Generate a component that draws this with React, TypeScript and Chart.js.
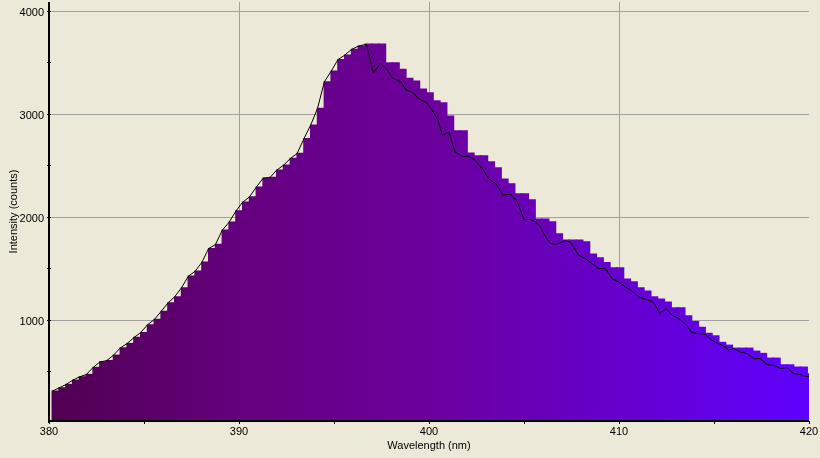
import React, { useEffect, useRef } from 'react';
import { Chart, registerables } from 'chart.js';

Chart.register(...registerables);

// Histogram bins (nm): left edge of first bin and bin width
const binStart = 380.17;
const binWidth = 0.358;

// Bar heights (counts), one per bin
const barCounts = [
  311, 343, 376, 417, 450, 473, 541, 595, 608, 660,
  731, 774, 832, 880, 955, 1007, 1085, 1168, 1227, 1314,
  1427, 1476, 1563, 1696, 1735, 1874, 1952, 2061, 2146, 2197,
  2292, 2379, 2386, 2457, 2505, 2570, 2619, 2764, 2894, 3056,
  3314, 3418, 3531, 3573, 3629, 3661, 3680, 3680, 3680, 3498,
  3498, 3434, 3347, 3321, 3243, 3207, 3130, 3110, 2981, 2838,
  2838, 2622, 2596, 2596, 2537, 2479, 2369, 2324, 2227, 2227,
  2168, 1981, 1981, 1955, 1838, 1777, 1777, 1777, 1760, 1641,
  1605, 1560, 1508, 1508, 1398, 1372, 1314, 1282, 1227, 1204,
  1175, 1120, 1120, 1042, 985, 930, 871, 848, 784, 757,
  728, 728, 728, 699, 677, 631, 631, 566, 566, 544,
  544, 479,
];

// Overlay trace (black line)
const lineWavelengths = [
  380.17, 380.53, 380.89, 381.24, 381.6, 381.96, 382.32, 382.68, 383.03, 383.39,
  383.75, 384.11, 384.47, 384.82, 385.18, 385.54, 385.9, 386.26, 386.61, 386.97,
  387.33, 387.69, 388.05, 388.4, 388.76, 389.12, 389.48, 389.84, 390.19, 390.55,
  390.91, 391.27, 391.63, 391.98, 392.34, 392.7, 393.06, 393.42, 393.77, 394.13,
  394.49, 394.85, 395.21, 395.56, 395.92, 396.28, 396.7,
  397.08, 397.44, 397.74, 398.08, 398.53, 398.79, 399.14, 399.49, 399.84, 400.17,
  400.44, 400.7, 401.05, 401.37, 401.75, 402.07, 402.37, 402.81, 403.16, 403.51,
  403.89, 404.29, 404.65, 405.0, 405.35, 405.61, 405.87, 406.14, 406.4, 406.7,
  407.02, 407.17, 407.44, 407.61, 407.87, 408.23, 408.58, 408.93, 409.28, 409.63,
  409.98, 410.33, 410.68, 411.03, 411.38, 411.74, 411.91, 412.14, 412.49, 412.79,
  413.14, 413.49, 413.84, 414.54, 414.89, 415.24, 415.59, 415.77, 416.03, 416.38,
  416.74, 417.08, 417.44, 417.79, 418.14, 418.49, 418.84, 419.19, 419.54, 419.8,
  420.0,
];
const lineCounts = [
  311, 343, 376, 417, 450, 473, 541, 595, 608, 660,
  731, 774, 832, 880, 955, 1007, 1085, 1168, 1227, 1314,
  1427, 1476, 1563, 1696, 1735, 1874, 1952, 2061, 2146, 2197,
  2292, 2379, 2386, 2457, 2505, 2570, 2619, 2764, 2894, 3056,
  3314, 3418, 3531, 3573, 3629, 3661, 3680,
  3405, 3493, 3445, 3353, 3314, 3234, 3212, 3147, 3120, 3040,
  2958, 2796, 2828, 2634, 2592, 2592, 2563, 2473, 2369, 2327,
  2214, 2224, 2149, 1978, 1978, 1955, 1906, 1809, 1745, 1738,
  1760, 1770, 1760, 1712, 1631, 1599, 1551, 1502, 1502, 1405,
  1372, 1324, 1285, 1227, 1204, 1185, 1146, 1065, 1114, 1049,
  1017, 968, 880, 861, 806, 774, 741, 709, 725, 692,
  677, 628, 628, 570, 563, 531, 541, 483, 473, 456,
  453,
];

const xMajorTicks = [380, 390, 400, 410, 420];
const xMinorTicks = [385, 395, 405, 415];
const yMajorTicks = [1000, 2000, 3000, 4000];
const yMinorTicks = [500, 1500, 2500, 3500];
const xTitle = 'Wavelength (nm)';
const yTitle = 'Intensity (counts)';

const FONT = '"Liberation Sans", Arial, sans-serif';
const GRID = '#a0a0a0';

const axesPlugin = {
  id: 'axesDecor',
  afterDatasetsDraw(chart: any) {
    const { ctx, chartArea: a, scales } = chart;
    const xs = scales.x;
    const ys = scales.y;
    ctx.save();
    ctx.fillStyle = '#000';
    const left = Math.round(a.left);
    const bottom = Math.round(a.bottom);
    ctx.fillRect(left - 1, a.top, 2, bottom - a.top + 2);
    ctx.fillRect(left, bottom - 1, Math.round(a.right) - left, 2);
    for (const v of [...yMajorTicks, ...yMinorTicks]) {
      const py = Math.floor(ys.getPixelForValue(v));
      ctx.fillRect(left - 2, py, 4, 1);
    }
    for (const v of [...xMajorTicks, ...xMinorTicks]) {
      const px = Math.floor(xs.getPixelForValue(v));
      ctx.fillRect(px, bottom, 1, 3);
    }
    ctx.restore();
  },
};

export default function App() {
  const ref = useRef<HTMLCanvasElement>(null);

  useEffect(() => {
    const canvas = ref.current;
    if (!canvas) return;
    Chart.defaults.font.family = FONT;
    Chart.defaults.font.size = 11;
    Chart.defaults.color = '#000';

    let cache: any = null;
    const gradient = (c: any) => {
      const chart = c.chart;
      const a = chart.chartArea;
      if (!a) return '#6a0090';
      if (cache && cache.l === a.left && cache.r === a.right) return cache.g;
      const g = chart.ctx.createLinearGradient(a.left, 0, a.right, 0);
      g.addColorStop(0, 'rgb(80,0,82)');
      g.addColorStop(0.25, 'rgb(100,0,125)');
      g.addColorStop(0.5, 'rgb(108,0,158)');
      g.addColorStop(0.75, 'rgb(102,0,205)');
      g.addColorStop(1, 'rgb(95,0,255)');
      cache = { l: a.left, r: a.right, g };
      return g;
    };

    const chart = new Chart(canvas, {
      type: 'bar',
      data: {
        datasets: [
          {
            type: 'line',
            data: lineWavelengths.map((x, i) => ({ x, y: lineCounts[i] })),
            borderColor: '#000',
            borderWidth: 1,
            pointRadius: 0,
            tension: 0,
            fill: false,
            order: 0,
          } as any,
          {
            type: 'bar',
            data: barCounts.map((y, i) => ({ x: binStart + binWidth * (i + 0.5), y })),
            backgroundColor: gradient,
            borderWidth: 0,
            barPercentage: 1,
            categoryPercentage: 1,
            inflateAmount: 0.7,
            clip: 0,
            order: 1,
          } as any,
        ],
      },
      plugins: [axesPlugin],
      options: {
        responsive: false,
        animation: false,
        events: [],
        layout: { padding: { left: 0, top: 2, right: 11, bottom: 0 } },
        plugins: { legend: { display: false }, tooltip: { enabled: false } },
        scales: {
          x: {
            type: 'linear',
            min: 380,
            max: 420,
            offset: false,
            afterBuildTicks: (s: any) => {
              s.ticks = xMajorTicks.map((v) => ({ value: v }));
            },
            afterFit: (s: any) => {
              s.height = 37;
              s.paddingLeft = 0;
              s.paddingRight = 0;
            },
            ticks: {
              autoSkip: false,
              maxRotation: 0,
              padding: 4,
              callback: (v: any) => String(v),
              font: { family: FONT, size: 11 },
              color: '#000',
            },
            grid: {
              offset: false,
              drawTicks: false,
              lineWidth: 1,
              color: (c: any) =>
                c.tick && c.tick.value > 380 && c.tick.value < 420 ? GRID : 'rgba(0,0,0,0)',
            },
            border: { display: false },
            title: {
              display: true,
              text: xTitle,
              font: { family: FONT, size: 11 },
              color: '#000',
              padding: { top: 0, bottom: 5 },
            },
          },
          y: {
            type: 'linear',
            min: 22,
            max: 4090,
            afterBuildTicks: (s: any) => {
              s.ticks = yMajorTicks.map((v) => ({ value: v }));
            },
            afterFit: (s: any) => {
              s.width = 49;
              s.paddingTop = 0;
              s.paddingBottom = 0;
            },
            ticks: {
              padding: 5,
              labelOffset: 1.5,
              callback: (v: any) => String(v),
              font: { family: FONT, size: 11 },
              color: '#000',
            },
            grid: {
              drawTicks: false,
              lineWidth: 1,
              color: GRID,
            },
            border: { display: false },
            title: {
              display: true,
              text: yTitle,
              font: { family: FONT, size: 11 },
              color: '#000',
              padding: { top: 7, bottom: 0 },
            },
          },
        },
      } as any,
    });

    return () => chart.destroy();
  }, []);

  return (
    <div
      style={{
        position: 'absolute',
        left: 0,
        top: 0,
        width: 820,
        height: 458,
        background: '#ECE9D8',
      }}
    >
      <canvas ref={ref} width={820} height={458} style={{ display: 'block' }} />
    </div>
  );
}
